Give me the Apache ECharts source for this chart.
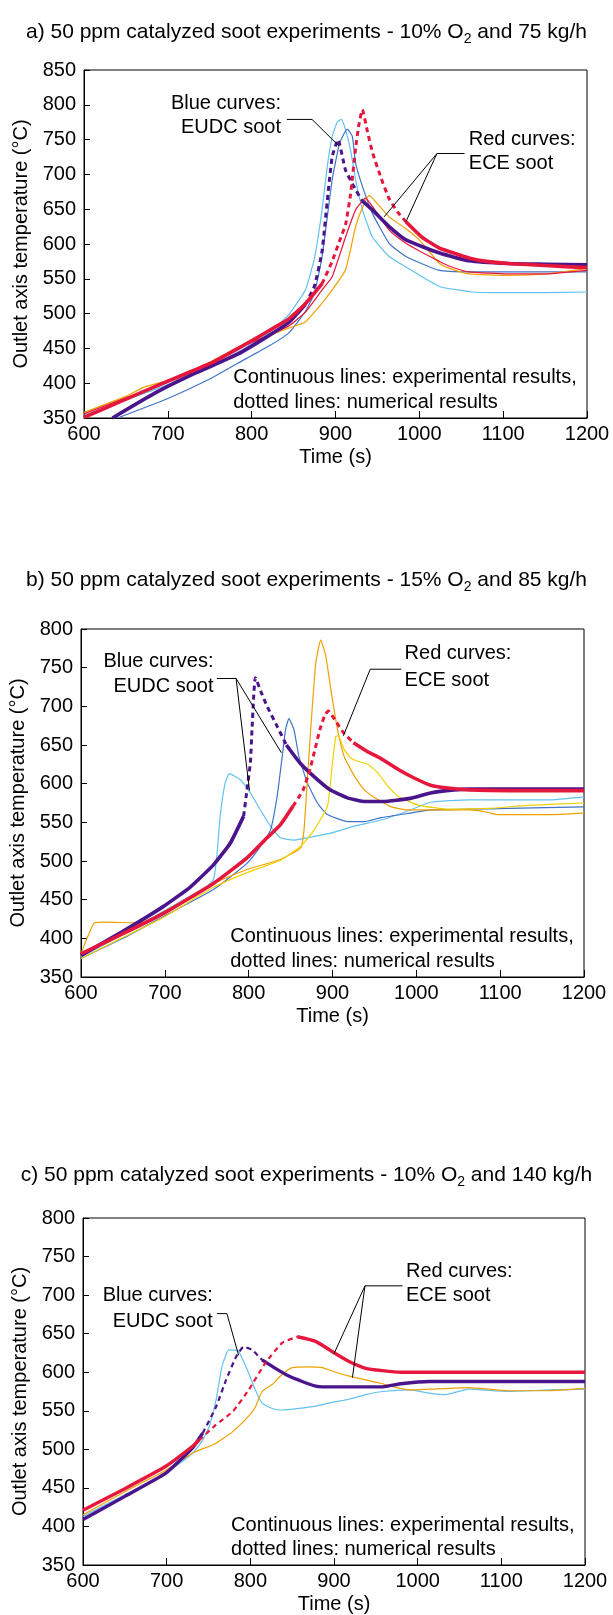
<!DOCTYPE html>
<html>
<head>
<meta charset="utf-8">
<script src="https://cdn.jsdelivr.net/npm/echarts@6/dist/echarts.min.js"></script>
<style>
html,body{margin:0;padding:0;background:#fff;}
#c{width:613px;height:1615px;}
</style>
</head>
<body>
<div id="c"></div>
<script>
// ---------- Panel a: 10% O2, 75 kg/h ----------
const aLightBlue = [[600,354],[650,376],[700,398],[750,424],[784,445],[820,472],[844,498],[864,534],[875,580],[884,649],[890,710],[896,754],[902,775],[907,779],[912,764],[918,735],[924,692],[932,650],[944,610],[964,582],[984,567],[1024,539],[1064,531],[1100,530],[1150,530],[1200,531]];
const aBlue = [[640,350],[700,378],[750,406],[784,429],[820,453],[844,472],[864,503],[875,530],[884,582],[896,692],[905,745],[914,765],[920,755],[924,716],[934,676],[944,644],[964,601],[984,582],[1024,562],[1060,560],[1100,560],[1150,560],[1200,560]];
const aOrange = [[600,358],[650,381],[671,394],[700,404],[750,430],[784,452],[820,468],[844,479],[864,488],[884,515],[896,534],[912,563],[924,625],[932,652],[940,670],[944,666],[964,639],[984,622],[1000,606],[1024,572],[1036,565],[1059,557],[1106,555],[1152,557],[1200,565]];
const aRedThin = [[600,356],[650,379],[700,401],[750,428],[784,450],[820,469],[844,482],[864,502],[884,534],[896,553],[912,610],[924,649],[936,666],[944,654],[964,620],[984,601],[1000,590],[1024,575],[1036,568],[1059,560],[1106,557],[1152,557],[1200,562]];
const aPurpleSolid1 = [[634,350],[685,386],[732,414],[784,442],[820,468],[844,487],[864,513]];
const aPurpleDashed = [[864,513],[875,540],[884,590],[890,660],[896,725],[903,750],[912,706],[924,678],[932,662]];
const aPurpleSolid2 = [[932,662],[944,649],[964,625],[984,606],[1024,587],[1059,576],[1106,572],[1150,571],[1200,570]];
const aRedSolid1 = [[600,351],[650,377],[700,403],[750,428],[784,450],[820,475],[844,492],[864,514],[884,543]];
const aRedDashed = [[884,543],[896,575],[905,605],[912,628],[918,672],[924,738],[928,772],[932,793],[938,762],[944,732],[954,696],[964,665],[974,646],[984,632]];
const aRedSolid2 = [[984,632],[1003,610],[1024,594],[1036,589],[1059,580],[1080,575],[1106,572],[1150,569],[1200,566]];

// ---------- Panel b: 15% O2, 85 kg/h ----------
const bLightBlue = [[600,376],[650,405],[698,435],[750,467],[758,476],[762,506],[766,558],[772,601],[777,613],[790,605],[802,588],[814,566],[826,545],[838,530],[854,527],[870,530],[898,536],[926,545],[958,553],[993,566],[1017,576],[1063,579],[1110,579],[1157,579],[1200,583]];
const bBlue = [[600,374],[650,400],[698,428],[758,463],[798,497],[814,519],[826,540],[834,584],[840,635],[844,670],[848,684],[854,670],[860,635],[870,601],[882,575],[894,560],[918,551],[938,551],[958,556],[993,562],[1017,566],[1063,567],[1110,568],[1200,570]];
const bOrange = [[600,380],[616,420],[628,421],[670,420],[678,422],[718,446],[758,471],[798,489],[838,502],[862,517],[866,540],[870,605],[874,670],[880,756],[886,786],[892,765],[898,722],[906,670],[914,635],[926,610],[938,592],[950,582],[958,577],[970,570],[989,566],[1017,566],[1063,566],[1085,563],[1096,560],[1157,560],[1200,562]];
const bYellow = [[600,374],[650,401],[698,427],[758,466],[798,485],[838,501],[862,519],[878,540],[894,571],[900,627],[904,661],[907,662],[914,644],[922,633],[930,629],[942,625],[954,614],[965,598],[979,583],[1003,572],[1040,567],[1087,568],[1133,572],[1200,575]];
const bPurpleSolid1 = [[600,378],[650,409],[698,441],[730,466],[758,495],[778,523],[794,558]];
const bPurpleDashed = [[794,558],[798,592],[802,627],[804,670],[806,713],[808,737],[815,718],[822,700],[834,674],[845,650]];
const bPurpleSolid2 = [[845,650],[861,627],[877,610],[897,592],[917,582],[937,577],[960,577],[993,581],[1017,588],[1045,592],[1063,593],[1200,593]];
const bRedSolid1 = [[600,380],[650,406],[698,432],[758,471],[798,504],[822,530],[838,547],[853,571]];
const bRedDashed = [[853,571],[865,592],[873,618],[879,644],[885,670],[891,689],[895,694],[905,679],[913,666],[925,653]];
const bRedSolid2 = [[925,653],[941,642],[957,633],[979,618],[998,607],[1017,598],[1040,594],[1063,592],[1110,591],[1200,591]];

// ---------- Panel c: 10% O2, 140 kg/h ----------
const cLightBlue = [[600,413],[650,441],[699,469],[731,495],[743,512],[751,530],[759,564],[766,607],[774,629],[778,629],[786,627],[798,599],[806,577],[814,560],[826,553],[838,551],[858,553],[878,556],[898,561],[918,565],[938,571],[958,575],[991,577],[1014,573],[1033,571],[1061,578],[1108,575],[1155,577],[1200,578]];
const cOrange = [[600,415],[650,445],[699,473],[731,495],[759,508],[779,523],[798,543],[806,555],[814,575],[826,584],[838,597],[850,606],[870,607],[886,606],[902,600],[918,595],[938,590],[958,585],[975,580],[991,577],[1014,578],[1061,580],[1108,576],[1155,576],[1200,579]];
const cPurpleSolid1 = [[600,409],[650,439],[699,469],[731,502],[743,521]];
const cPurpleDashed = [[743,521],[759,555],[771,590],[783,620],[792,633],[802,629],[814,616]];
const cPurpleSolid2 = [[814,616],[830,605],[846,595],[862,588],[878,582],[886,581],[958,581],[980,585],[1014,588],[1200,588]];
const cRedSolid1 = [[600,421],[650,449],[699,478],[731,504],[739,512]];
const cRedDashed = [[739,512],[759,532],[779,549],[798,577],[818,612],[838,638],[856,646]];
const cRedSolid2 = [[856,646],[878,640],[902,624],[918,614],[938,605],[958,602],[980,600],[1200,600]];

// ---------- axis ticks / titles ----------
const xRange = [600, 1200, 100];
const yRanges = [[350, 850, 50], [350, 800, 50], [350, 800, 50]];
const titles = [
  ['a) 50 ppm catalyzed soot experiments - 10% O', '2', ' and 75 kg/h'],
  ['b) 50 ppm catalyzed soot experiments - 15% O', '2', ' and 85 kg/h'],
  ['c) 50 ppm catalyzed soot experiments - 10% O', '2', ' and 140 kg/h']
];
const xName = 'Time (s)';
const yName = 'Outlet axis temperature (°C)';
const blueLabel = ['Blue curves:', 'EUDC soot'];
const redLabel = ['Red curves:', 'ECE soot'];
const noteLabel = ['Continuous lines: experimental results,', 'dotted lines: numerical results'];

// annotation anchors in data units (per panel)
const annot = [
  { blue: [835, 802, 767], red: [1059, 750, 716], note: [778, 408, 372],
    leaders: [[[842,779],[872,779],[904,741]], [[1054,730],[1021,730],[958,639]], [[1021,730],[984,632]]] },
  { blue: [758, 758, 726], red: [986, 768, 734], note: [778, 403, 370],
    leaders: [[[762,736],[785,736],[801,591]], [[785,736],[839,640]], [[982,748],[945,748],[913,662]]] },
  { blue: [755, 699, 666], red: [986, 731, 699], note: [777, 401, 370],
    leaders: [[[760,676],[772,676],[786,622]], [[982,712],[937,712],[900,624]], [[937,712],[922,593]]] }
];

const FONT = '"Liberation Sans", Arial, Helvetica, sans-serif';
const C = { lightBlue: '#62c2ef', blue: '#3f74c6', purple: '#4a148c', red: '#e6173c', orange: '#f0a000', yellow: '#f2d000' };

const gridBoxes = [
  { left: 84, right: 26, top: 70, height: 348 },
  { left: 81, right: 29, top: 629, height: 348 },
  { left: 83, right: 28, top: 1218, height: 347 }
];
const titleTops = [14, 562, 1157];

const chart = echarts.init(document.getElementById('c'), null, { renderer: 'canvas' });

const grids = [], xAxes = [], yAxes = [], series = [], titleOpts = [];
function thin(data, color, g) {
  series.push({ type: 'line', xAxisIndex: g, yAxisIndex: g, data, showSymbol: false, symbol: 'none',
    smooth: 0.15, lineStyle: { color, width: 1.2 }, silent: true, z: 2 });
}
function thick(data, color, g, dashed, w) {
  series.push({ type: 'line', xAxisIndex: g, yAxisIndex: g, data, showSymbol: false, symbol: 'none',
    smooth: 0.15,
    lineStyle: dashed ? { color, width: w.d, type: [5, 4] } : { color, width: w.s }, silent: true, z: 3 });
}
const panels = [
  { exp: [[aLightBlue, C.lightBlue], [aBlue, C.blue], [aOrange, C.orange], [aRedThin, C.red]],
    num: [[aPurpleSolid1, aPurpleDashed, aPurpleSolid2, C.purple], [aRedSolid1, aRedDashed, aRedSolid2, C.red]], w: { s: 3.6, d: 3 } },
  { exp: [[bLightBlue, C.lightBlue], [bBlue, C.blue], [bOrange, C.orange], [bYellow, C.yellow]],
    num: [[bPurpleSolid1, bPurpleDashed, bPurpleSolid2, C.purple], [bRedSolid1, bRedDashed, bRedSolid2, C.red]], w: { s: 3.6, d: 3 } },
  { exp: [[cLightBlue, C.lightBlue], [cOrange, C.orange]],
    num: [[cPurpleSolid1, cPurpleDashed, cPurpleSolid2, C.purple], [cRedSolid1, cRedDashed, cRedSolid2, C.red]], w: { s: 3.4, d: 2.2 } }
];

panels.forEach((p, g) => {
  grids.push(Object.assign({ show: true, borderColor: '#000', borderWidth: 1, backgroundColor: 'transparent' }, gridBoxes[g]));
  xAxes.push({ type: 'value', gridIndex: g, min: xRange[0], max: xRange[1], interval: xRange[2],
    name: xName, nameLocation: 'middle', nameGap: 29,
    nameTextStyle: { fontSize: 20, color: '#000', fontFamily: FONT },
    axisLine: { lineStyle: { color: '#000', width: 1 } },
    axisTick: { inside: true, length: 7, lineStyle: { color: '#000' } },
    axisLabel: { fontSize: 20, color: '#000', fontFamily: FONT, margin: 6, formatter: v => String(v) },
    splitLine: { show: false } });
  const yr = yRanges[g];
  yAxes.push({ type: 'value', gridIndex: g, min: yr[0], max: yr[1], interval: yr[2],
    name: yName, nameLocation: 'middle', nameGap: 50,
    nameTextStyle: { fontSize: 20, color: '#000', fontFamily: FONT },
    axisLine: { show: true, lineStyle: { color: '#000', width: 1 } },
    axisTick: { show: true, inside: true, length: 6, lineStyle: { color: '#000' } },
    axisLabel: { fontSize: 20, color: '#000', fontFamily: FONT, margin: 8, formatter: v => String(v) },
    splitLine: { show: false } });
  const t = titles[g];
  titleOpts.push({ left: 'center', top: titleTops[g],
    text: '{t|' + t[0] + '}{s|' + t[1] + '}{t|' + t[2] + '}',
    textStyle: { fontWeight: 'normal', rich: {
      t: { fontSize: 21, fontFamily: FONT, fontWeight: 'normal', color: '#000', lineHeight: 23 },
      s: { fontSize: 14, fontFamily: FONT, fontWeight: 'normal', color: '#000', padding: [13, 0, 0, 0] } } } });
  p.exp.forEach(e => thin(e[0], e[1], g));
  p.num.forEach(n => { thick(n[0], n[3], g, false, p.w); thick(n[1], n[3], g, true, p.w); thick(n[2], n[3], g, false, p.w); });
  annot[g].leaders.forEach(l => series.push({ type: 'line', xAxisIndex: g, yAxisIndex: g, data: l,
    showSymbol: false, symbol: 'none', lineStyle: { color: '#000', width: 1 }, silent: true, z: 5 }));
});

chart.setOption({ animation: false, backgroundColor: '#fff', title: titleOpts, grid: grids, xAxis: xAxes, yAxis: yAxes, series });

// text annotations placed through the axes' scales
const graphics = [];
function addText(g, x, y, text, align) {
  const pt = chart.convertToPixel({ gridIndex: g }, [x, y]);
  graphics.push({ type: 'text', x: pt[0], y: pt[1], z: 10,
    style: { text, fontSize: 20, fontFamily: FONT, fill: '#000', align, verticalAlign: 'middle' } });
}
annot.forEach((a, g) => {
  addText(g, a.blue[0], a.blue[1], blueLabel[0], 'right');
  addText(g, a.blue[0], a.blue[2], blueLabel[1], 'right');
  addText(g, a.red[0], a.red[1], redLabel[0], 'left');
  addText(g, a.red[0], a.red[2], redLabel[1], 'left');
  addText(g, a.note[0], a.note[1], noteLabel[0], 'left');
  addText(g, a.note[0], a.note[2], noteLabel[1], 'left');
});
chart.setOption({ graphic: graphics });
</script>
</body>
</html>
